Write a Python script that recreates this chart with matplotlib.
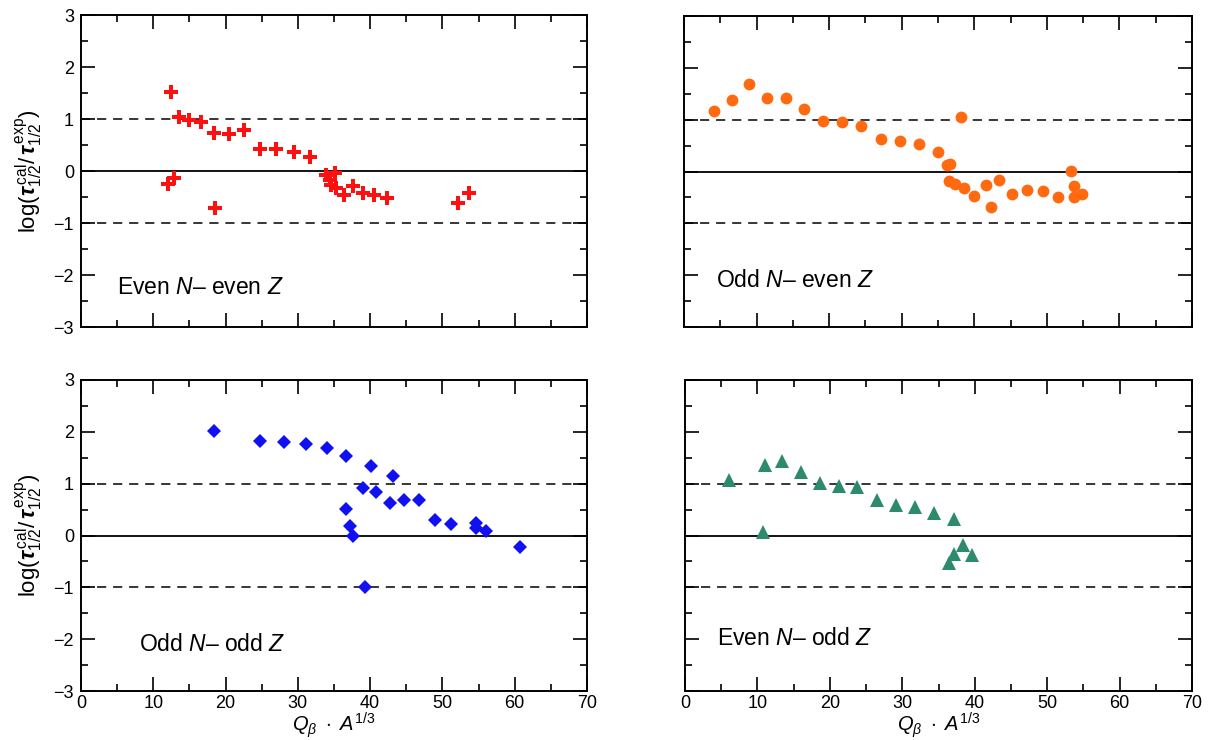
"""Beta-decay half-life ratio vs Q_beta * A^(1/3), four parity groups."""

import matplotlib
matplotlib.use("Agg")
import matplotlib.pyplot as plt
from matplotlib.ticker import MultipleLocator

plt.rcParams["font.family"] = ["Liberation Sans", "DejaVu Sans"]
plt.rcParams["mathtext.fontset"] = "custom"
plt.rcParams["mathtext.rm"] = "Liberation Sans"
plt.rcParams["mathtext.it"] = "Liberation Sans:italic"
plt.rcParams["mathtext.bf"] = "Liberation Sans:bold"
plt.rcParams["mathtext.bfit"] = "Liberation Sans:italic:bold"

# even N - even Z
EE_X = [12.0, 12.4, 12.8, 13.5, 14.9, 16.6, 18.4, 18.6, 20.5, 22.5, 24.7, 27.0,
        29.4, 31.7, 33.9, 34.4, 34.6, 35.1, 35.3, 36.4, 37.6, 39.0, 40.6, 42.4,
        52.2, 53.7]
EE_Y = [-0.25, 1.51, -0.14, 1.03, 0.99, 0.94, 0.74, -0.71, 0.72, 0.79, 0.42, 0.42,
        0.37, 0.26, -0.08, -0.17, -0.27, -0.03, -0.32, -0.46, -0.29, -0.43, -0.46, -0.51,
        -0.61, -0.43]

# odd N - even Z
OE_X = [4.1, 6.6, 8.9, 11.4, 14.0, 16.6, 19.2, 21.8, 24.4, 27.1, 29.7, 32.4,
        35.0, 36.3, 36.7, 36.5, 37.4, 38.2, 38.6, 40.0, 41.6, 42.3, 43.4, 45.2,
        47.2, 49.4, 51.5, 53.3, 53.7, 53.7, 54.8]
OE_Y = [1.16, 1.38, 1.68, 1.41, 1.41, 1.20, 0.97, 0.96, 0.88, 0.62, 0.59, 0.54,
        0.38, 0.13, 0.15, -0.19, -0.24, 1.06, -0.32, -0.48, -0.26, -0.69, -0.16, -0.43,
        -0.35, -0.38, -0.49, 0.01, -0.28, -0.49, -0.44]

# odd N - odd Z
OO_X = [18.4, 24.8, 28.1, 31.1, 34.1, 36.6, 36.6, 37.2, 37.6, 39.0, 39.3, 40.1,
        40.8, 42.7, 43.1, 44.7, 46.7, 49.0, 51.2, 54.6, 54.6, 56.0, 60.7]
OO_Y = [2.02, 1.82, 1.81, 1.76, 1.68, 1.53, 0.52, 0.18, -0.01, 0.92, -0.99, 1.34,
        0.84, 0.63, 1.15, 0.69, 0.68, 0.29, 0.22, 0.24, 0.15, 0.08, -0.22]

# even N - odd Z
EO_X = [6.1, 10.8, 11.0, 13.4, 16.0, 18.6, 21.2, 23.8, 26.5, 29.1, 31.8, 34.4,
        37.1, 36.4, 37.2, 38.4, 39.6]
EO_Y = [1.07, 0.06, 1.36, 1.43, 1.22, 1.01, 0.95, 0.94, 0.69, 0.58, 0.55, 0.44,
        0.31, -0.53, -0.35, -0.19, -0.38]

LABELS = [r"Even $N$– even $Z$", r"Odd $N$– even $Z$",
          r"Odd $N$– odd $Z$", r"Even $N$– odd $Z$"]

XLABEL = r"$Q_{\beta}\ \cdot\ A^{1/3}$"
YLABEL = r"log$(\mathbfit{\tau}_{1/2}^{\,\mathrm{cal}}/\,\mathbfit{\tau}_{1/2}^{\,\mathrm{exp}})$"

W, H = 1215, 740


def _axes_rect(x0, y0, x1, y1):
    # pixel box -> figure fraction
    return [x0 / W, 1 - y1 / H, (x1 - x0) / W, (y1 - y0) / H]


def _style(ax, left, bottom):
    ax.set_xlim(0, 70)
    ax.set_ylim(-3, 3)
    ax.xaxis.set_major_locator(MultipleLocator(10))
    ax.xaxis.set_minor_locator(MultipleLocator(5))
    ax.yaxis.set_major_locator(MultipleLocator(1))
    ax.yaxis.set_minor_locator(MultipleLocator(0.5))
    ax.tick_params(which="both", direction="in", top=True, right=True, width=1.2)
    ax.tick_params(which="major", length=10, labelsize=13, pad=3)
    ax.tick_params(which="minor", length=5)
    ax.tick_params(labelleft=left, labelbottom=bottom)
    ax.tick_params(axis="y", pad=5)
    for s in ax.spines.values():
        s.set_linewidth(1.4)
    ax.axhline(0, color="black", lw=1.3, zorder=1)
    for yv in (1, -1):
        ax.axhline(yv, color="black", lw=1.1, ls=(0, (6, 4.5)), zorder=1)
    if left:
        ax.set_ylabel(YLABEL, fontsize=16, labelpad=6)
    if bottom:
        ax.set_xlabel(XLABEL, fontsize=14.5, labelpad=-1)


def main():
    fig = plt.figure(figsize=(W / 100, H / 100), dpi=100)
    ax_ee = fig.add_axes(_axes_rect(81, 15, 587, 327))
    ax_oe = fig.add_axes(_axes_rect(684, 16, 1192, 327))
    ax_oo = fig.add_axes(_axes_rect(81, 380, 587, 691))
    ax_eo = fig.add_axes(_axes_rect(685, 380, 1192, 691))

    ax_ee.plot(EE_X, EE_Y, "P", color="#ff1010", ms=10, mew=0, zorder=3)
    ax_oe.plot(OE_X, OE_Y, "o", color="#ff6a10", ms=8.5, mew=0, zorder=3)
    ax_oo.plot(OO_X, OO_Y, "D", color="#1010f0", ms=7.5, mew=0, zorder=3)
    ax_eo.plot(EO_X, EO_Y, "^", color="#2e8b6a", ms=10, mew=0, zorder=3)

    text_pos = [(5.0, -2.25), (4.4, -2.1), (8.0, -2.1), (4.4, -1.98)]
    for ax, lab, (tx, ty), left, bottom in zip(
            [ax_ee, ax_oe, ax_oo, ax_eo], LABELS, text_pos,
            [True, False, True, False], [False, False, True, True]):
        _style(ax, left, bottom)
        ax.text(tx, ty, lab, fontsize=16.5, va="center", ha="left")

    fig.savefig("out.png", dpi=100)
    plt.close(fig)


if __name__ == "__main__":
    main()
